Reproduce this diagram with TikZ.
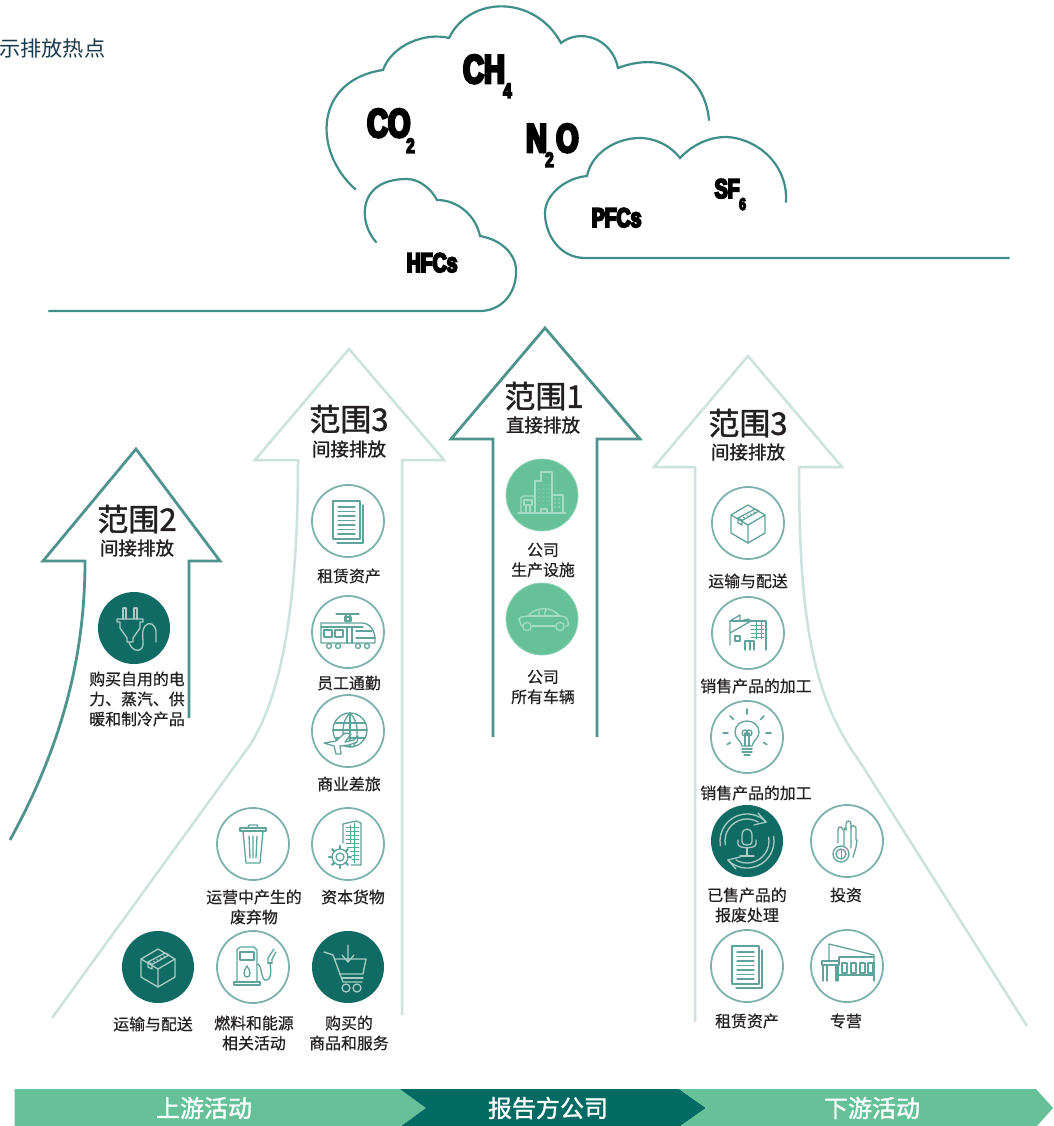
\documentclass[tikz,border=0pt]{standalone}
\usepackage{fontspec}
\usetikzlibrary{calc}
\setmainfont{Noto Sans CJK SC}
\newfontfamily\gasfont[FakeStretch=0.72,FakeBold=7]{Liberation Sans Bold}
\newfontfamily\cjkmid[FakeBold=1.3]{Noto Sans CJK SC}
\newfontfamily\cjklab[FakeBold=.5]{Noto Sans CJK SC}
\definecolor{cloudc}{HTML}{3F8F88}
\definecolor{arrd}{HTML}{4F938D}
\definecolor{arrl}{HTML}{CBE2DE}
\definecolor{ringc}{HTML}{7DB2AC}
\definecolor{icond}{HTML}{5FA39C}
\definecolor{iconl}{HTML}{A9CCC7}
\definecolor{icong}{HTML}{A6DCC3}
\definecolor{darkg}{HTML}{0F6B63}
\definecolor{bandd}{HTML}{006B63}
\definecolor{bandg}{HTML}{66C199}
\definecolor{txt}{HTML}{231F20}
\definecolor{toptxt}{HTML}{1B3A4B}
\tikzset{
  ic/.style={line width=1.3pt,line cap=round,line join=round},
  ict/.style={line width=.9pt,line cap=round,line join=round},
  cloudline/.style={draw=cloudc,line width=2.2pt,line cap=round},
  arrowdark/.style={draw=arrd,line width=2.8pt,line join=miter},
  arrowlight/.style={draw=arrl,line width=2.5pt,line join=miter},
  circbase/.style={circle,minimum size=72pt,inner sep=0pt},
  ring/.style={circbase,draw=ringc,line width=1.8pt},
  darkc/.style={circbase,fill=darkg},
  greenc/.style={circbase,fill=bandg,draw=bandg!70!white,line width=.8pt},
  lab/.style={font=\fontsize{15.9}{20}\cjklab,text=txt,align=center,inner sep=0pt},
  scopeT/.style={font=\fontsize{31}{34}\cjkmid,text=txt,inner sep=0pt},
  scopeS/.style={font=\fontsize{18.5}{22}\cjkmid,text=txt,inner sep=0pt},
  bandT/.style={font=\fontsize{24}{26}\cjkmid,text=white,inner sep=0pt},
  gasB/.style={font=\fontsize{40}{40}\gasfont,text=black,inner sep=0pt,anchor=base west},
  gasS/.style={font=\fontsize{27}{27}\gasfont,text=black,inner sep=0pt,anchor=base west},
  gasM/.style={font=\fontsize{21}{21}\gasfont,text=black,inner sep=0pt,anchor=base west},
  gasN/.style={font=\fontsize{17}{17}\gasfont,text=black,inner sep=0pt,anchor=base west},
  pics/docs/.style={code={
    \draw[ic] (-15,-20) rectangle (12,18);
    \draw[ic] (15,-16) -- (15,22) -- (-11,22);
    \foreach \y in {-14,-9.5,-5,-.5,4,8.5,13} {\draw[ic] (-10,\y) -- (7,\y);}
  }},
  pics/train/.style={code={
    \draw[ic] (-12,-18) -- (11,-18);
    \draw[ic] (-2,-18) -- (-2,-10) (2,-18) -- (2,-10);
    \draw[ic] (-3,-15) rectangle (3,-11);
    \draw[ic] (-27,-9) -- (14,-9) .. controls (22,-9) and (27,-1) .. (27,7) -- (27,11) -- (-27,11) -- cycle;
    \draw[ic] (-27,-5) -- (15,-5);
    \draw[ic] (-24,-2) rectangle (-16,5) (-13,-2) rectangle (-5,5);
    \draw[ic] (-1,-5) -- (-1,11) (4,-5) -- (4,11);
    \draw[ic] (8,-1) -- (24,-1) (8,6) -- (27,6);
    \foreach \x in {-19,-10,10,19} {\draw[ic] (\x,14) circle (2.5);}
  }},
  pics/globeplane/.style={code={
    \draw[ic] (2,-1) circle (17);
    \draw[ic] (2,-18) .. controls (-7,-10) and (-7,8) .. (0,15);
    \draw[ic] (2,-18) .. controls (11,-10) and (11,8) .. (5,16);
    \draw[ic] (2,-18) -- (2,16);
    \draw[ic] (-13,-8) -- (17,-8) (-15,-1) -- (19,-1) (-12,7) -- (17,7);
    \draw[ic,fill=white] (-24,12) -- (-12,10) -- (-3,2) -- (3,3) -- (-3,11) -- (6,9) -- (10,5) -- (9,11) -- (1,14) -- (-8,15) -- (-7,23) -- (-12,23) -- (-14,15) -- cycle;
  }},
  pics/trash/.style={code={
    \draw[ic] (-13,-13) -- (-13,-16) -- (13,-16) -- (13,-13) -- cycle;
    \draw[ic] (-5,-16) -- (-4,-19) -- (4,-19) -- (5,-16);
    \draw[ic] (-10,-13) -- (-7,19) -- (7,19) -- (10,-13);
    \draw[ic] (-4,-8) -- (-3,14) (0,-8) -- (0,14) (4,-8) -- (3,14);
  }},
  pics/bldggear/.style={code={
    \draw[ic] (-5,-1) -- (-5,-20) -- (8,-23) -- (13,-21) -- (13,21) -- (3,21);
    \foreach \y in {-17,-13,-9,-5,-1,3,7,11,15} {\draw[ict] (-2,\y) -- (11,\y);}
    \draw[ict] (2,-19) -- (2,-1) (6,-21) -- (6,19);
    \fill[white] (-8,13) circle (12);
    \draw[ic] (-8,13) circle (4);
    \draw[ic] (-8,13) circle (8);
    \foreach \a in {0,45,...,315} {\draw[ic,line width=2.4pt] ($(-8,13)+(\a:8)$) -- ($(-8,13)+(\a:11)$);}
  }},
  pics/boxi/.style={code={
    \draw[ic] (0,-18) -- (17,-8) -- (17,10) -- (0,20) -- (-17,10) -- (-17,-8) -- cycle;
    \draw[ic] (-17,-8) -- (0,2) -- (17,-8) (0,2) -- (0,20);
    \draw[ic] (-10,-5) -- (7,-14) (-6,-2.5) -- (11,-12) (-10,-5) -- (-6,-2.5) (7,-14) -- (11,-12);
    \foreach \t in {0,.2,...,1} {\draw[ict] ($(-8,-4)!\t!(9,-13)$) -- ++(1.5,1);}
    \draw[ic] (-10,-5) -- (-10,0) -- (-6,2) -- (-6,-2.5);
  }},
  pics/fuel/.style={code={
    \draw[ic] (-16,15) -- (-16,-17) -- (-13,-20) -- (1,-20) -- (4,-17) -- (4,15);
    \draw[ic] (-13,-15) rectangle (1,-7);
    \draw[ic] (-19,15) rectangle (7,18);
    \draw[ic] (-6,-1) .. controls (-10,4) and (-10,10) .. (-6,10) .. controls (-2,10) and (-2,4) .. (-6,-1);
    \draw[ic] (4,-3) .. controls (9,-3) and (8,12) .. (12,13) .. controls (19,14) and (18,3) .. (17,-4);
    \draw[ic] (15,-4) -- (15,-9) -- (21,-18) (19,-4) -- (19,-8) -- (23,-15);
    \draw[ic] (15,-4) -- (19,-4);
  }},
  pics/cart/.style={code={
    \draw[ic] (-24,-15) -- (-15,-12) -- (-8,7) -- (-5,15) -- (14,15);
    \draw[ic] (-13,-8) -- (18,-8) -- (15,7) -- (-8,7);
    \draw[ic] (-6,11) -- (15,11);
    \draw[ic] (-2,21) circle (4) (9,21) circle (4);
    \draw[ic] (0,-22) -- (0,-5) (-6,-12) -- (0,-5) -- (6,-12);
  }},
  pics/plugi/.style={code={
    \draw[ic] (-11,-20) -- (-11,-9) (-8,-20) -- (-8,-9) (-11,-20) -- (-8,-20);
    \draw[ic] (0,-20) -- (0,-9) (3,-20) -- (3,-9) (0,-20) -- (3,-20);
    \draw[ic] (-17,-9) -- (9,-9) -- (9,-6) -- (6,-6) -- (6,0) -- (-1,10) -- (-1,14) -- (-7,14) -- (-7,10) -- (-14,0) -- (-14,-6) -- (-17,-6) -- cycle;
    \draw[ic] (-5,14) .. controls (-3,22) and (5,25) .. (8,20) .. controls (11,14) and (6,5) .. (11,-2) .. controls (15,-7) and (21,-4) .. (22,3) -- (22,14);
  }},
  pics/city/.style={code={
    \draw[ic] (-7,18) -- (-7,-14) -- (-1,-14) -- (-1,-23) -- (10,-23) -- (10,18);
    \draw[ic] (-21,18) -- (-21,3) -- (-18,1) -- (-9,1) -- (-7,3);
    \draw[ic] (10,0) -- (21,0) -- (21,18);
    \draw[ic] (-24,18) -- (24,18);
    \draw[ic] (-18,5) rectangle (-10,10) (-16,18) -- (-16,11) (-12,18) -- (-12,11);
    \foreach \x in {-3,1,5,8} \foreach \y in {-10,-6,-2,2,6,10} {\fill[color=icong] (\x,\y) circle (.7);}
    \foreach \x in {13,17} \foreach \y in {4,8,12} {\fill[color=icong] (\x,\y) circle (.8);}
    \draw[ic] (-1,18) rectangle (5,14);
  }},
  pics/caricon/.style={code={
    \draw[ic] (-22,3) .. controls (-25,-2) and (-21,-2) .. (-14,-3) .. controls (-8,-10) and (0,-11) .. (6,-10) .. controls (12,-9) and (15,-5) .. (18,-3) .. controls (24,-3) and (27,0) .. (26,7) -- (23,7);
    \draw[ic] (-10,7) -- (13,7);
    \draw[ic] (-22,3) .. controls (-22,6) and (-20,7) .. (-19,7);
    \draw[ic] (-14,-3) -- (18,-3);
    \draw[ic] (-3,-9) -- (-3,-3) (4,-10) -- (2,-3);
    \draw[ic] (-15,7.5) circle (4.2) (18,7.5) circle (4.2);
  }},
  pics/factory/.style={code={
    \draw[ic] (-18,12) -- (-18,-12) -- (-8,-18) -- (-8,-12) -- (0,-14) -- (3,-12) -- (-18,0);
    \draw[ic] (-18,-12) -- (3,-12);
    \draw[ic] (3,-12) -- (18,-12) -- (18,17);
    \foreach \y in {-8,-4,0,4} {\draw[ict] (3,\y) -- (16,\y);}
    \draw[ict] (8,-12) -- (8,6) (13,-12) -- (13,6);
    \draw[ic] (-3,17) -- (-3,8) -- (6,8) -- (6,17) (2,8) -- (2,17);
    \draw[ic] (-13,3) rectangle (-8,8);
  }},
  pics/bulb/.style={code={
    \draw[ic] (-5,9) .. controls (-6,3) and (-12,2) .. (-12,-5) .. controls (-12,-12) and (-6,-16) .. (0,-16) .. controls (6,-16) and (12,-12) .. (12,-5) .. controls (12,2) and (6,3) .. (5,9) -- cycle;
    \draw[ic] (-5,12) -- (5,12) (-5,15) -- (5,15) (-3,18) -- (3,18);
    \draw[ic] (-2,9) -- (-2,-4) (2,9) -- (2,-4);
    \draw[ic] (-2,-4) circle (3) (2,-4) circle (3);
    \foreach \a in {0,45,90,135,180} {\draw[ic,line width=1.6pt] ($(0,-4)+(-\a:19)$) -- ($(0,-4)+(-\a:24)$);}
    \foreach \a in {-30,210} {\draw[ic,line width=1.6pt] ($(0,-4)+(-\a:19)$) -- ($(0,-4)+(-\a:23)$);}
  }},
  pics/recycle/.style={code={
    \draw[ic] (-5,-6) .. controls (-5,-14) and (5,-14) .. (5,-6) -- (5,1) .. controls (5,5) and (-5,5) .. (-5,1) -- cycle;
    \draw[ic] (-9,-1) -- (-9,3) .. controls (-9,8) and (9,8) .. (9,3) -- (9,-1);
    \draw[ic] (0,7) -- (0,15) (-7,15) -- (7,15);
    \draw[ic] (170:27) arc[start angle=170,end angle=315,radius=27];
    \draw[ic] (170:22) arc[start angle=170,end angle=300,radius=22];
    \draw[ic] (-10:27) arc[start angle=-10,end angle=135,radius=27];
    \draw[ic] (-10:22) arc[start angle=-10,end angle=120,radius=22];
    \draw[ic] (11,-28) -- (19,-19) -- (7,-16);
    \draw[ic] (-11,28) -- (-19,19) -- (-7,16);
  }},
  pics/handcoin/.style={code={
    \draw[ic] (-3,5) -- (-3,-11) .. controls (-3,-14) and (-1,-14) .. (-1,-11);
    \draw[ic] (-9,2) -- (-9,-11) .. controls (-9,-15) and (-5,-15) .. (-4,-11);
    \draw[ic] (-1,-11) -- (-1,-17) .. controls (-1,-21) and (4,-21) .. (4,-17) -- (4,7);
    \draw[ic] (4,-13) .. controls (4,-16) and (8,-16) .. (9,-13) -- (9,-1) -- (10,-1) -- (9,6) -- (6,16);
    \draw[ic] (-6,13) circle (8);
    \draw[ic] (-6,13) circle (5);
    \draw[ict] (-6,9) -- (-6,17);
  }},
  pics/warehouse/.style={code={
    \draw[ic] (-18,-4) -- (-18,-22) -- (27,-11) -- (27,-2);
    \draw[ic] (-8,-9) -- (27,-9) (-8,-9) -- (-8,-2);
    \draw[ic] (-25,-5) -- (-8,-5) -- (-8,-1) -- (-25,-1) -- cycle;
    \draw[ic] (-24,-1) -- (-24,15) (-20,-1) -- (-20,15) (-11,-1) -- (-11,15) (-9,-1) -- (-9,15);
    \draw[ic] (-9,9) -- (27,9) (27,-4) -- (27,15);
    \foreach \x in {-5,4,13,21} {\draw[ic] (\x,7) -- (\x,-3) -- (\x+5,-3) -- (\x+5,7) -- cycle;}
  }},
}
\begin{document}
\begin{tikzpicture}[x=1pt,y=-1pt]
\useasboundingbox (0,0) rectangle (1053,1126);
\clip (0,0) rectangle (1053,1126);
\fill[white] (0,0) rectangle (1053,1126);

\node[font=\fontsize{21.2}{22}\selectfont,text=toptxt,anchor=west,inner sep=0pt] (hot) at (-1,48) {示排放热点};

% clouds
\draw[cloudline] (355,189) .. controls (312,150) and (315,80) .. (383,70)
  .. controls (392,45) and (425,32) .. (449,38)
  .. controls (470,-5) and (535,-5) .. (561,43)
  .. controls (580,28) and (612,38) .. (618,68)
  .. controls (665,50) and (705,75) .. (709,120);
\draw[cloudline] (376,242) .. controls (358,222) and (357,179) .. (407,179)
  .. controls (420,179) and (432,190) .. (437,200)
  .. controls (458,200) and (476,216) .. (480,236)
  .. controls (503,240) and (517,256) .. (516,272)
  .. controls (516,295) and (500,311) .. (480,311) -- (49,311);
\draw[cloudline] (1009,258) -- (585,258) .. controls (560,258) and (545,235) .. (545,213)
  .. controls (545,195) and (565,178) .. (587,176)
  .. controls (592,152) and (617,138) .. (640,138)
  .. controls (656,138) and (672,147) .. (680,158)
  .. controls (694,143) and (715,134) .. (735,138)
  .. controls (765,144) and (788,170) .. (786,202);

% gases
\node[gasB] (g1) at (463,83) {CH};
\node[gasM] (g1s) at (503,98) {4};
\node[gasB] (g2) at (367,137) {CO};
\node[gasM] (g2s) at (406,153) {2};
\node[gasB] (g3) at (526,152) {N};
\node[gasM] (g3s) at (545,167) {2};
\node[gasB] (g3b) at (556,152) {O};
\node[gasS] (g4) at (591.5,227) {PFCs};
\node[gasS] (g5) at (406.5,272) {HFCs};
\node[gasS] (g6) at (714.5,198) {SF};
\node[gasN] (g6s) at (739,210) {6};

% arrows
\draw[arrowlight] (52,1018) -- (250,745) .. controls (285,690) and (298,590) .. (298,460) -- (255,460) -- (349,349) -- (444,460) -- (402,460) -- (402,1015);
\draw[arrowlight] (695,1022) -- (695,467) -- (654,467) -- (748,356) -- (842,467) -- (799,467) .. controls (799,630) and (815,700) .. (860,762) -- (1027,1026);
\draw[arrowdark] (10,840) .. controls (65,740) and (85,650) .. (85,561) -- (43,561) -- (136,449) -- (220,561) -- (189,561) -- (189,718);
\draw[arrowdark] (493,737) -- (493,439) -- (451,439) -- (545,328) -- (640,439) -- (597,439) -- (597,737);

% headings
\node[scopeT] (s2) at (137,519) {范围2};
\node[scopeS] (s2b) at (137,548) {间接排放};
\node[scopeT] (s3a) at (349,419) {范围3};
\node[scopeS] (s3ab) at (349,449) {间接排放};
\node[scopeT] (s1) at (544,396) {范围1};
\node[scopeS] (s1b) at (543,425) {直接排放};
\node[scopeT] (s3b) at (748,423) {范围3};
\node[scopeS] (s3bb) at (748,452) {间接排放};

% circles
\node[darkc] (a1) at (134,628) {};
\node[ring] (b1) at (348,521) {};
\node[ring] (b2) at (348,632) {};
\node[ring] (b3) at (348,731) {};
\node[ring] (b4) at (253,844) {};
\node[ring] (b5) at (348,844) {};
\node[darkc] (b6) at (158,967) {};
\node[ring] (b7) at (253,967) {};
\node[darkc] (b8) at (348,967) {};
\node[greenc] (c1) at (542,495) {};
\node[greenc] (c2) at (542,619) {};
\node[ring] (d1) at (748,523) {};
\node[ring] (d2) at (748,633) {};
\node[ring] (d3) at (747,737) {};
\node[darkc] (d4) at (747,841) {};
\node[ring] (d5) at (847,841) {};
\node[ring] (d6) at (747,966) {};
\node[ring] (d7) at (847,966) {};

% icons
\pic[color=iconl] at (a1) {plugi};
\pic[color=icond] at (b1) {docs};
\pic[color=icond] at (b2) {train};
\pic[color=icond] at (b3) {globeplane};
\pic[color=icond] at (b4) {trash};
\pic[color=icond] at (b5) {bldggear};
\pic[color=iconl] at (b6) {boxi};
\pic[color=icond] at (b7) {fuel};
\pic[color=iconl] at (b8) {cart};
\pic[color=icong] at (c1) {city};
\pic[color=icong] at (c2) {caricon};
\pic[color=icond] at (d1) {boxi};
\pic[color=icond] at (d2) {factory};
\pic[color=icond] at (d3) {bulb};
\pic[color=iconl] at (d4) {recycle};
\pic[color=icond] at (d5) {handcoin};
\pic[color=icond] at (d6) {docs};
\pic[color=icond] at (d7) {warehouse};

% labels
\node[lab] (la1) at (137,699) {购买自用的电\\力、蒸汽、供\\暖和制冷产品};
\node[lab] (lb1) at (349,576) {租赁资产};
\node[lab] (lb2) at (349,683) {员工通勤};
\node[lab] (lb3) at (349,784) {商业差旅};
\node[lab] (lb4) at (254,907) {运营中产生的\\废弃物};
\node[lab] (lb5) at (353,897) {资本货物};
\node[lab] (lb6) at (153,1024) {运输与配送};
\node[lab] (lb7) at (254,1033) {燃料和能源\\相关活动};
\node[lab] (lb8) at (349,1033) {购买的\\商品和服务};
\node[lab] (lc1) at (543,560) {公司\\生产设施};
\node[lab] (lc2) at (543,687) {公司\\所有车辆};
\node[lab] (ld1) at (748,581) {运输与配送};
\node[lab] (ld2) at (756,686) {销售产品的加工};
\node[lab] (ld3) at (756,793) {销售产品的加工};
\node[lab] (ld4) at (747,905) {已售产品的\\报废处理};
\node[lab] (ld5) at (846,895) {投资};
\node[lab] (ld6) at (747,1021) {租赁资产};
\node[lab] (ld7) at (846,1021) {专营};

% band
\fill[bandg] (14.5,1089) -- (400,1089) -- (426,1108) -- (400,1127) -- (14.5,1127) -- cycle;
\fill[bandd] (400,1089) -- (679,1089) -- (706,1108) -- (679,1127) -- (400,1127) -- (426,1108) -- cycle;
\fill[bandg] (679,1089) -- (1036,1089) -- (1053,1108) -- (1036,1127) -- (679,1127) -- (706,1108) -- cycle;
\node[bandT] (u) at (204,1108) {上游活动};
\node[bandT] (r) at (548,1108) {报告方公司};
\node[bandT] (dn) at (872,1108) {下游活动};
\end{tikzpicture}
\end{document}
